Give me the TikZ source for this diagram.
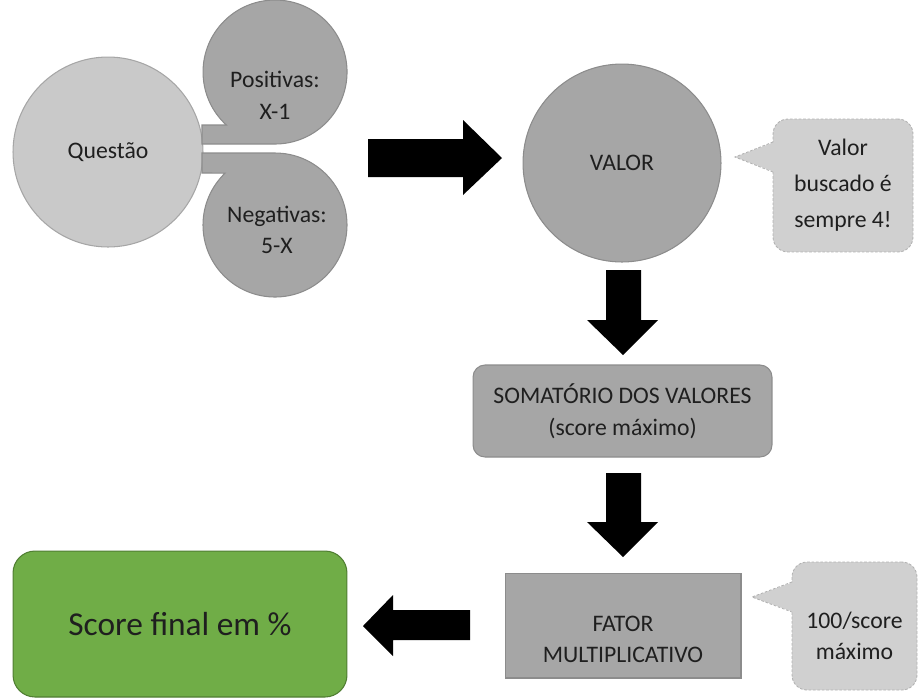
\documentclass[tikz,border=0pt]{standalone}
\usepackage{fontspec}
\setmainfont{Carlito}

\definecolor{boxgray}{HTML}{A6A6A6}
\definecolor{linegray}{HTML}{8C8C8C}
\definecolor{qgray}{HTML}{C9C9C9}
\definecolor{notegray}{HTML}{D0D0D0}
\definecolor{scoregreen}{HTML}{70AD47}
\definecolor{scoreline}{HTML}{507E32}

\tikzset{
  txt/.style={font=\fontsize{13.5}{18}\selectfont, text=black!88, align=center},
  bubble/.style={fill=boxgray, draw=linegray, line width=0.6pt},
  blockbox/.style={txt, bubble, rectangle},
  note/.style={txt, rectangle, fill=notegray, draw=black!30, line width=0.5pt, dash pattern=on 1.5pt off 1pt, rounded corners=0.3cm},
  notetip/.style={draw=black!30, line width=0.5pt, dash pattern=on 1.5pt off 1pt},
  bigarrow/.style={fill=black},
}

\begin{document}
\begin{tikzpicture}[x=0.02cm, y=-0.02cm]
  \useasboundingbox (0,0) rectangle (919,698);

  \node[circle, fill=qgray, draw=boxgray, line width=0.6pt, minimum size=3.8cm, txt] (questao) at (108,152) {Questão};
  \filldraw[bubble] (202,125) -- (226.3,125) arc[start angle=132.6, end angle=450, radius=72] -- (202,144) -- cycle;
  \filldraw[bubble] (202,153) -- (275,153) arc[start angle=270, end angle=586.2, radius=72] -- (202,173) -- cycle;
  \node[txt] (positivas) at (275,95) {Positivas:\\X-1};
  \node[txt] (negativas) at (277,230) {Negativas:\\5-X};

  \node[circle, bubble, minimum size=3.96cm, txt] (valor) at (622,163) {VALOR};
  \node[note, minimum width=2.8cm, minimum height=2.66cm, font=\fontsize{13.5}{20.5}\selectfont] (valornote) at (843,185.5) {Valor\\buscado é\\sempre 4!};
  \coordinate (valortip) at (735,157);
  \fill[notegray] (774.5,142) -- (valortip) -- (774.5,172) -- cycle;
  \draw[notetip] (773,142) -- (valortip) -- (773,172);

  \node[blockbox, rounded corners=0.24cm, minimum width=5.98cm, minimum height=1.84cm] (soma) at (622.5,411) {SOMATÓRIO DOS VALORES\\(score máximo)};
  \node[bubble, rectangle, minimum width=4.72cm, minimum height=2.1cm] (fator) at (623,625.5) {};
  \node[txt] (fatortxt) at ([yshift=-0.28cm]fator.center) {FATOR\\MULTIPLICATIVO};
  \node[note, minimum width=2.5cm, minimum height=2.56cm] (fatornote) at (854.5,626) {};
  \node[txt] (fatornotetxt) at ([yshift=-0.2cm]fatornote.center) {100/score\\máximo};
  \coordinate (fatortip) at (752,597);
  \fill[notegray] (793.5,582) -- (fatortip) -- (793.5,612) -- cycle;
  \draw[notetip] (792,582) -- (fatortip) -- (792,612);

  \node[fill=scoregreen, draw=scoreline, line width=0.6pt, rounded corners=0.44cm, minimum width=6.68cm, minimum height=2.92cm, font=\fontsize{19}{23}\selectfont, text=black!88] (final) at (180,624) {Score final em \%};

  \fill[bigarrow] (368,139) -- (463,139) -- (463,120) -- (502,158) -- (463,195) -- (463,177) -- (368,177) -- cycle;
  \fill[bigarrow] (606,270) -- (641,270) -- (641,320) -- (658,320) -- (623,355) -- (587,320) -- (606,320) -- cycle;
  \fill[bigarrow] (606,473) -- (641,473) -- (641,522) -- (658,522) -- (623,557) -- (587,522) -- (606,522) -- cycle;
  \fill[bigarrow] (470,610) -- (393,610) -- (393,595) -- (363,626) -- (393,656) -- (393,640) -- (470,640) -- cycle;
\end{tikzpicture}
\end{document}
